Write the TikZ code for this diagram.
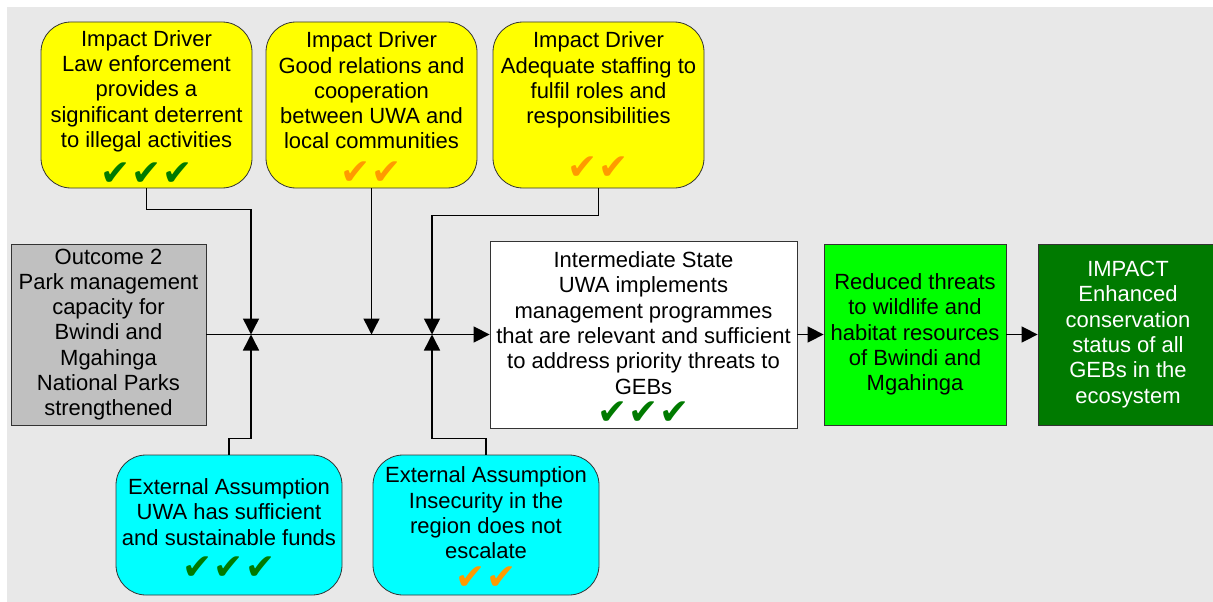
\documentclass[tikz,border=0pt]{standalone}
\usepackage{fontspec}
\setmainfont{Liberation Sans}
\newfontfamily\symfont{DejaVu Sans}
\usetikzlibrary{arrows.meta}
\definecolor{bgc}{HTML}{E8E8E8}
\definecolor{ckgreen}{HTML}{007A00}
\definecolor{ckorange}{HTML}{FF9A00}
\definecolor{boxgrey}{HTML}{C0C0C0}
\definecolor{boxyellow}{HTML}{FFFF00}
\definecolor{boxcyan}{HTML}{00FFFF}
\definecolor{brightgreen}{HTML}{00FF00}
\definecolor{darkgreen}{HTML}{007A00}
% #1 colour, #2 number of ticks, #3 how far the ticks are lowered
\newcommand\ticks[3]{\raisebox{-#3}[\height][\depth]{\color{#1}\symfont\fontsize{36}{36}\selectfont
  \foreach \i in {1,...,#2}{\ifnum\i>1\hspace{1pt}\fi ✔}}}
\tikzset{
  box/.style={draw=black!80, line width=0.8pt, inner sep=0pt, align=center,
    font=\fontsize{22}{25.3}\selectfont},
  ybox/.style={box, fill=boxyellow, rounded corners=30pt, minimum width=211pt, minimum height=166pt},
  cbox/.style={box, fill=boxcyan, rounded corners=30pt, minimum width=226pt, minimum height=140pt},
  rbox/.style={box, minimum height=181pt},
  conn/.style={line width=1.5pt, draw=black},
  arr/.style={conn, -{Triangle[length=16pt,width=16pt]}}
}
\begin{document}
\begin{tikzpicture}[x=1pt,y=-1pt]
\useasboundingbox (0,0) rectangle (1213,602);
\fill[bgc] (7,7) rectangle (1213,602);

\node[ybox] (y1) at (146.5,105) {Impact Driver\\Law enforcement\\provides a\\significant deterrent\\to illegal activities\\[4pt]\ticks{ckgreen}{3}{6pt}};
\node[ybox] (y2) at (371.5,105) {Impact Driver\\Good relations and\\cooperation\\between UWA and\\local communities\\[4pt]\ticks{ckorange}{2}{6pt}};
\node[ybox] (y3) at (598.5,105) {Impact Driver\\Adequate staffing to\\fulfil roles and\\responsibilities\\[26pt]\ticks{ckorange}{2}{1pt}};

\node[rbox, fill=boxgrey, minimum width=195pt] (oc) at (108.5,334.5) {Outcome 2\\Park management\\capacity for\\Bwindi and\\Mgahinga\\National Parks\\strengthened};
\node[box, fill=white, minimum width=307pt, minimum height=187pt] (is) at (643.5,334.5) {Intermediate State\\UWA implements\\management programmes\\that are relevant and sufficient\\to address priority threats to\\GEBs\\[-2pt]\ticks{ckgreen}{3}{7pt}};
\node[rbox, fill=brightgreen, minimum width=182pt] (rt) at (915,334.5) {Reduced threats\\to wildlife and\\habitat resources\\of Bwindi and\\Mgahinga};
\node[rbox, fill=darkgreen, text=white, minimum width=180pt] (im) at (1128,334.5) {IMPACT\\Enhanced\\conservation\\status of all\\GEBs in the\\ecosystem};

\node[cbox] (c1) at (229,525) {External Assumption\\UWA has sufficient\\and sustainable funds\\[1pt]\ticks{ckgreen}{3}{8pt}};
\node[cbox] (c2) at (486,525) {External Assumption\\Insecurity in the\\region does not\\escalate\\[-1pt]\ticks{ckorange}{2}{6pt}};

\coordinate (j1) at (251,334.5);
\coordinate (j2) at (371.5,334.5);
\coordinate (j3) at (432,334.5);

\draw[arr] (oc.east) -- (is.west);
\draw[arr] (is.east) -- (rt.west);
\draw[arr] (rt.east) -- (im.west);
\draw[arr] (y1.south) -- ++(0,21) -| (j1);
\draw[arr] (y2.south) -- (j2);
\draw[arr] (y3.south) -- ++(0,27) -| (j3);
\draw[arr] (c1.north) -- ++(0,-16) -| (j1);
\draw[arr] (c2.north) -- ++(0,-16) -| (j3);
\end{tikzpicture}
\end{document}
